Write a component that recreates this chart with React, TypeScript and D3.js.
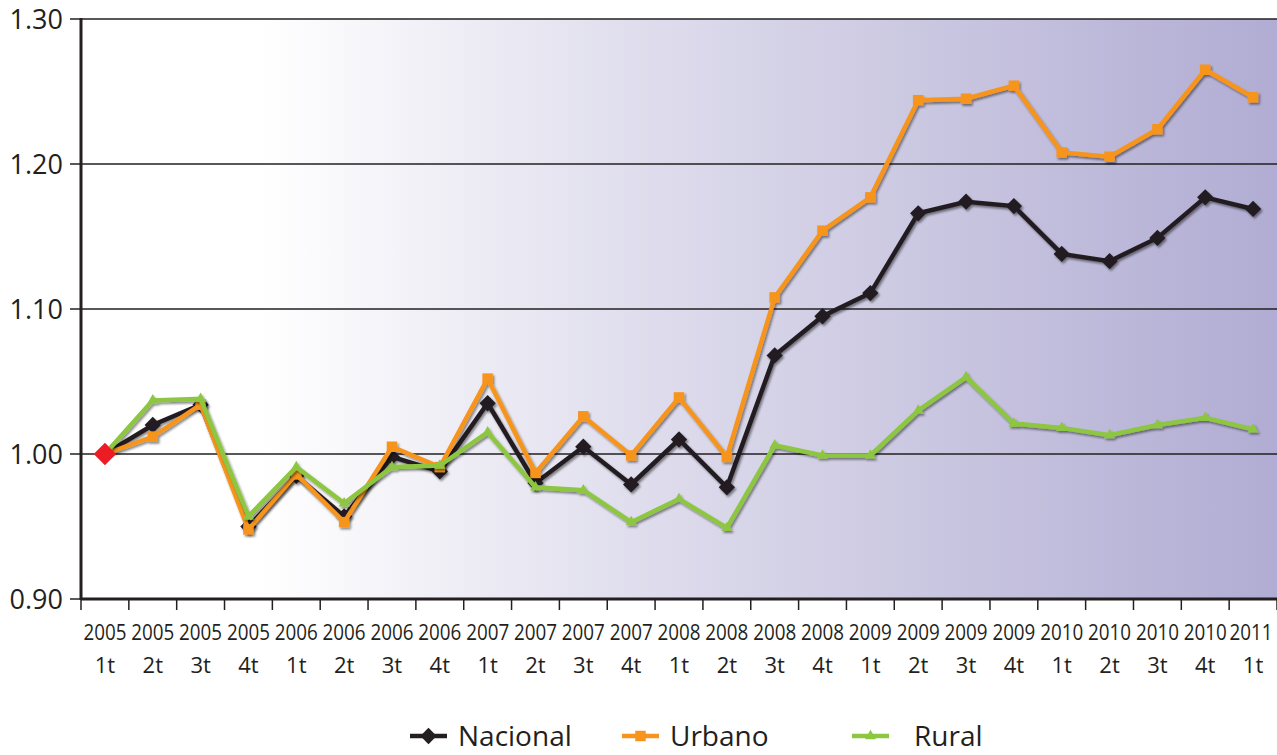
import React, { useEffect, useRef } from 'react';
import * as d3 from 'd3';

const years = ['2005', '2005', '2005', '2005', '2006', '2006', '2006', '2006', '2007', '2007', '2007', '2007', '2008', '2008', '2008', '2008', '2009', '2009', '2009', '2009', '2010', '2010', '2010', '2010', '2011'];
const quarters = ['1t', '2t', '3t', '4t', '1t', '2t', '3t', '4t', '1t', '2t', '3t', '4t', '1t', '2t', '3t', '4t', '1t', '2t', '3t', '4t', '1t', '2t', '3t', '4t', '1t'];

const nacional = [1.000, 1.020, 1.034, 0.950, 0.985, 0.957, 0.998, 0.988, 1.035, 0.980, 1.005, 0.979, 1.010, 0.977, 1.068, 1.095, 1.111, 1.166, 1.174, 1.171, 1.138, 1.133, 1.149, 1.177, 1.169];
const urbano = [1.000, 1.012, 1.034, 0.948, 0.986, 0.953, 1.005, 0.991, 1.052, 0.987, 1.026, 0.999, 1.039, 0.998, 1.108, 1.154, 1.177, 1.244, 1.245, 1.254, 1.208, 1.205, 1.224, 1.265, 1.246];
const rural = [1.000, 1.037, 1.038, 0.957, 0.991, 0.966, 0.991, 0.992, 1.015, 0.977, 0.975, 0.953, 0.969, 0.949, 1.006, 0.999, 0.999, 1.030, 1.053, 1.021, 1.018, 1.013, 1.020, 1.025, 1.017];

const yTicks = [0.9, 1.0, 1.1, 1.2, 1.3];

const series = [
  { name: 'Nacional', values: nacional, color: '#231f20', marker: 'diamond' },
  { name: 'Urbano', values: urbano, color: '#f7941d', marker: 'square' },
  { name: 'Rural', values: rural, color: '#8dc63f', marker: 'triangle' },
];

export default function App() {
  const ref = useRef<SVGSVGElement>(null);

  useEffect(() => {
    const width = 1277;
    const height = 755;
    const left = 81;
    const right = 1277;
    const top = 19;
    const bottom = 599;
    const font = '"Open Sans", "Noto Sans", sans-serif';

    const svg = d3.select(ref.current);
    svg.selectAll('*').remove();
    svg.attr('width', width).attr('height', height);

    const defs = svg.append('defs');
    const grad = defs.append('linearGradient').attr('id', 'bg').attr('x1', '0').attr('x2', '1').attr('y1', '0').attr('y2', '0');
    grad.append('stop').attr('offset', '0.15').attr('stop-color', '#ffffff');
    grad.append('stop').attr('offset', '0.5').attr('stop-color', '#dcdaeb');
    grad.append('stop').attr('offset', '1').attr('stop-color', '#b1acd3');

    const shadow = defs.append('filter').attr('id', 'shadow').attr('x', '-10%').attr('y', '-10%').attr('width', '120%').attr('height', '120%');
    shadow.append('feDropShadow').attr('dx', 1.5).attr('dy', 2).attr('stdDeviation', 1.2)
      .attr('flood-color', '#000').attr('flood-opacity', 0.45);

    const x = d3.scaleBand().domain(years.map((_, i) => String(i))).range([left, right]);
    const y = d3.scaleLinear().domain([0.9, 1.3]).range([bottom, top]);
    const cx = (i: number) => (x(String(i)) as number) + x.bandwidth() / 2;

    // background
    svg.append('rect').attr('x', left).attr('y', top).attr('width', right - left).attr('height', bottom - top).attr('fill', 'url(#bg)');

    // grid lines
    svg.append('g').selectAll('line').data(yTicks.slice(1)).enter().append('line')
      .attr('x1', left).attr('x2', right)
      .attr('y1', d => y(d)).attr('y2', d => y(d))
      .attr('stroke', '#231f20').attr('stroke-width', 1.5);

    // y axis
    svg.append('line').attr('x1', left).attr('x2', left).attr('y1', top - 1).attr('y2', bottom + 1)
      .attr('stroke', '#231f20').attr('stroke-width', 3);
    const yAxis = svg.append('g');
    yAxis.selectAll('line').data(yTicks).enter().append('line')
      .attr('x1', left - 11).attr('x2', left)
      .attr('y1', d => y(d)).attr('y2', d => y(d))
      .attr('stroke', '#231f20').attr('stroke-width', 1.5);
    yAxis.selectAll('text').data(yTicks).enter().append('text')
      .attr('x', 63).attr('y', d => y(d) + 10)
      .attr('text-anchor', 'end')
      .attr('font-family', font).attr('font-size', 27).attr('fill', '#231f20')
      .text(d => d3.format('.2f')(d));

    // x axis
    svg.append('line').attr('x1', left).attr('x2', right).attr('y1', bottom).attr('y2', bottom)
      .attr('stroke', '#231f20').attr('stroke-width', 3);
    const bounds = d3.range(years.length + 1).map(i => left + i * x.bandwidth());
    svg.append('g').selectAll('line').data(bounds).enter().append('line')
      .attr('x1', d => d).attr('x2', d => d).attr('y1', bottom).attr('y2', bottom + 11)
      .attr('stroke', '#231f20').attr('stroke-width', 1.5);
    const xl = svg.append('g');
    xl.selectAll('text.yr').data(years).enter().append('text')
      .attr('class', 'yr')
      .attr('x', (_, i) => cx(i) - (i === years.length - 1 ? 2 : 0)).attr('y', 640)
      .attr('text-anchor', 'middle').attr('font-family', font).attr('font-size', 21).attr('fill', '#231f20')
      .attr('textLength', 43).attr('lengthAdjust', 'spacingAndGlyphs')
      .text(d => d);
    xl.selectAll('text.q').data(quarters).enter().append('text')
      .attr('class', 'q')
      .attr('x', (_, i) => cx(i)).attr('y', 673)
      .attr('text-anchor', 'middle').attr('font-family', font).attr('font-size', 22).attr('fill', '#231f20')
      .text(d => d);

    const markerPath = (m: string) => {
      if (m === 'diamond') return d3.symbol(d3.symbolDiamond2, 170)();
      if (m === 'square') return d3.symbol(d3.symbolSquare2, 140)();
      return d3.symbol(d3.symbolTriangle2, 85)();
    };

    const line = d3.line<number>().x((_, i) => cx(i)).y(d => y(d));

    series.forEach(s => {
      const g = svg.append('g').attr('filter', 'url(#shadow)');
      g.append('path').datum(s.values).attr('d', line)
        .attr('fill', 'none').attr('stroke', s.color).attr('stroke-width', 4.5).attr('stroke-linejoin', 'miter');
      g.selectAll('path.m').data(s.values.slice(1)).enter().append('path')
        .attr('class', 'm')
        .attr('d', markerPath(s.marker))
        .attr('transform', (d, i) => `translate(${cx(i + 1)},${y(d)})`)
        .attr('fill', s.color);
    });

    // first point highlight
    svg.append('path').attr('d', d3.symbol(d3.symbolDiamond2, 320)())
      .attr('transform', `translate(${cx(0)},${y(nacional[0])})`)
      .attr('fill', '#ed1c24');

    // legend
    const legendX = [410, 622, 852];
    const lg = svg.append('g');
    series.forEach((s, i) => {
      const g = lg.append('g').attr('transform', `translate(${legendX[i]},736)`);
      g.append('line').attr('x1', 0).attr('x2', 37).attr('y1', 0).attr('y2', 0)
        .attr('stroke', s.color).attr('stroke-width', 4.5);
      g.append('path').attr('d', markerPath(s.marker)).attr('transform', 'translate(18.5,0)').attr('fill', s.color);
      g.append('text').attr('x', s.name === 'Rural' ? 62 : 48).attr('y', 10)
        .attr('font-family', font).attr('font-size', 28).attr('fill', '#231f20')
        .text(s.name);
    });
  }, []);

  return <svg ref={ref} style={{ position: 'absolute', left: 0, top: 0, display: 'block' }} />;
}
